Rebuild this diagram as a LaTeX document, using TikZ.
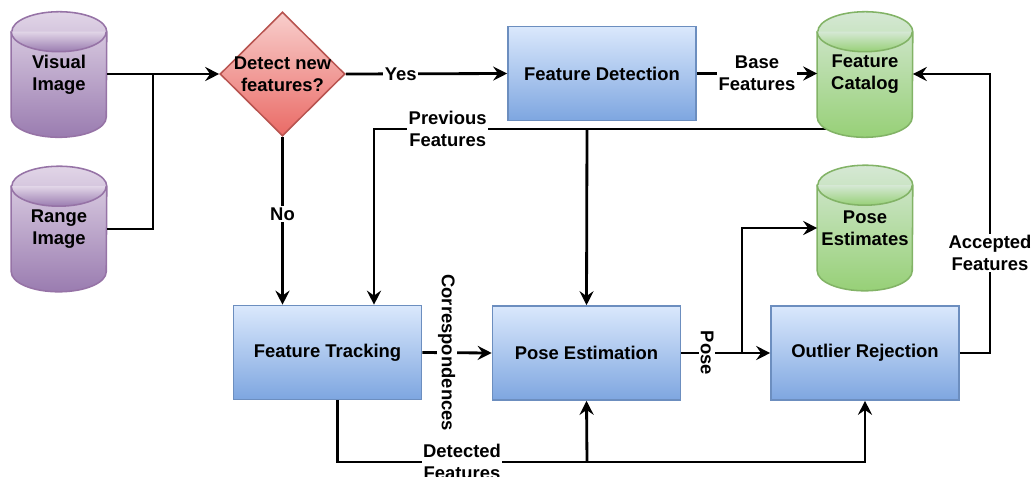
\documentclass[tikz,border=0pt]{standalone}
\usepackage{fontspec}
\setmainfont{Liberation Sans}
\usetikzlibrary{shapes.geometric,arrows.meta,backgrounds}

\definecolor{purpletop}{HTML}{E1D5E7}
\definecolor{purplebot}{HTML}{9A7CB0}
\definecolor{purpleline}{HTML}{9673A6}
\definecolor{redtop}{HTML}{F8CECC}
\definecolor{redbot}{HTML}{EA6B66}
\definecolor{redline}{HTML}{B85450}
\definecolor{bluetop}{HTML}{DAE8FC}
\definecolor{bluebot}{HTML}{7EA6E0}
\definecolor{blueline}{HTML}{6C8EBF}
\definecolor{greentop}{HTML}{D5E8D4}
\definecolor{greenbot}{HTML}{97D077}
\definecolor{greenline}{HTML}{82B366}

\tikzset{
  txt/.style={font=\fontsize{13.1}{15.7}\selectfont\bfseries, align=center},
  dbbox/.style={txt, rectangle, minimum width=2.375cm, minimum height=3.125cm, inner sep=0pt},
  purplefill/.style={draw=purpleline, top color=purpletop, bottom color=purplebot, line width=1.1pt},
  greenfill/.style={draw=greenline, top color=greentop, bottom color=greenbot, line width=1.1pt},
  proc/.style={txt, rectangle, draw=blueline, top color=bluetop, bottom color=bluebot,
    minimum width=4.7cm, minimum height=2.35cm, line width=1.1pt},
  decide/.style={diamond, draw=redline, top color=redtop, bottom color=redbot,
    minimum width=3.125cm, minimum height=3.1cm, inner sep=0pt, line width=1.1pt},
  line/.style={line width=2pt},
  arr/.style={line, -{Stealth[length=10pt,width=10pt,inset=3.5pt]}},
  lbl/.style={txt, fill=white, inner sep=1pt},
}

% cylinder drawn round a named box: #1 node, #2 fill style
\newcommand{\drawdb}[2]{%
  \path [#2] ([yshift=-0.5cm]#1.north west) -- ([yshift=0.5cm]#1.south west)
    arc [start angle=180, end angle=360, x radius=1.1875cm, y radius=0.5cm]
    -- ([yshift=-0.5cm]#1.north east)
    arc [start angle=0, end angle=180, x radius=1.1875cm, y radius=0.5cm] -- cycle;
  \draw [#2, fill=none] ([yshift=-0.5cm]#1.north west)
    arc [start angle=180, end angle=360, x radius=1.1875cm, y radius=0.5cm];
}

\begin{document}
\begin{tikzpicture}[x=0.025cm,y=-0.025cm]
  \useasboundingbox (0,0) rectangle (1034,476);

  % stores
  \node [dbbox] (vis) at (59,74.5) {Visual\\Image};
  \node [dbbox] (rng) at (59,229) {Range\\Image};
  \node [dbbox] (fcat) at (865,74.5) {Feature\\Catalog};
  \node [dbbox] (pdb) at (865,228) {Pose\\Estimates};

  % decision and steps
  \node [decide, label={[txt]center:Detect new\\features?}] (dec) at (282.5,74) {};
  \node [proc] (fdet) at (602,73.5) {Feature Detection};
  \node [proc] (ftrk) at (327.5,352.5) {Feature Tracking};
  \node [proc] (pest) at (586.5,353) {Pose Estimation};
  \node [proc] (outl) at (865,353) {Outlier Rejection};

  \coordinate (join) at (153,74);
  \coordinate (prv) at (374,129);
  \coordinate (prvj) at (587,129);
  \coordinate (pj) at (742,353);
  \coordinate (dlow) at (587,462);
  \coordinate (acc) at (990,74);

  \begin{scope}[on background layer]
    % previous features
    \draw [arr] (fcat |- prv) -- node [lbl, pos=0.85] (prevf) {Previous\\Features}
      (prv) -- (prv |- ftrk.north);
    \drawdb{vis}{purplefill}
    \drawdb{rng}{purplefill}
    \drawdb{fcat}{greenfill}
    \drawdb{pdb}{greenfill}
  \end{scope}
  \draw [arr] (prvj) -- (pest.north);

  % inputs
  \draw [arr] (vis.east |- dec.west) -- (dec.west);
  \draw [line] (rng.east) -| (join);
  \draw [arr] (dec.east) -- node [lbl, pos=0.34] (yes) {Yes} (fdet.west);
  \draw [arr] (dec.south) -- node [lbl, pos=0.46] (no) {No} (dec.south |- ftrk.north);
  \draw [arr] (fdet.east) -- node [lbl] (basef) {Base\\Features} (fdet.east -| fcat.west);

  % tracking to pose
  \draw [arr] (ftrk.east) -- node [lbl, rotate=-90, pos=0.35] (corr) {Correspondences} (pest.west);
  \draw [arr] (pest.east) -- node [lbl, rotate=-90, pos=0.29] (posel) {Pose} (outl.west);
  \draw [arr] (pj) |- (pdb.west);

  % detected features
  \draw [arr] ([xshift=0.26cm]ftrk.south) |- (dlow) -| (outl.south);
  \draw [arr] (dlow) -- (pest.south);
  \node [lbl] (detf) at (462,462) {Detected\\Features};

  % accepted features
  \draw [arr] (outl.east) -| (acc) -- (acc -| fcat.east);
  \node [lbl] (accf) at (990,253) {Accepted\\Features};
\end{tikzpicture}
\end{document}
